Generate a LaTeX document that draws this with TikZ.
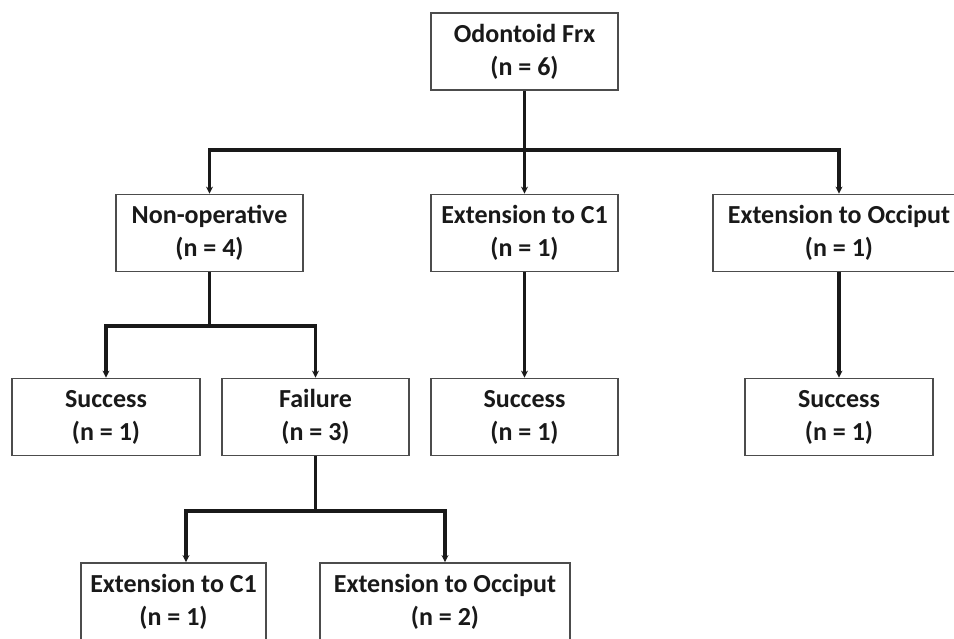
\documentclass[tikz,border=0pt]{standalone}
\usepackage{fontspec}
\setmainfont{Carlito}
\usetikzlibrary{arrows.meta}
\begin{document}
\begin{tikzpicture}[x=1pt, y=-1pt,
        box/.style={draw=black!70, line width=1.8pt, rectangle, minimum height=77pt, inner sep=0pt, align=center,
            font=\fontsize{26}{33}\selectfont\bfseries, text=black!90},
        link/.style={line width=3.2pt, black!90},
        arr/.style={link, -{Stealth[length=7pt, width=7pt]}}]
    \useasboundingbox (0,0) rectangle (954,638);

    % Nodes
    \node[box, minimum width=187pt] at (524.5, 51.5) (frx) {Odontoid Frx\\(n = 6)};
    \node[box, minimum width=187pt] at (209.5, 233) (nonop) {Non-operative\\(n = 4)};
    \node[box, minimum width=187pt] at (524.5, 233) (extcone) {Extension to C1\\(n = 1)};
    \node[box, minimum width=252pt] at (839, 233) (extocc) {Extension to Occiput\\(n = 1)};
    \node[box, minimum width=188pt] at (106, 417) (succa) {Success\\(n = 1)};
    \node[box, minimum width=187pt] at (315.5, 417) (fail) {Failure\\(n = 3)};
    \node[box, minimum width=187pt] at (524.5, 417) (succb) {Success\\(n = 1)};
    \node[box, minimum width=188pt] at (839, 417) (succc) {Success\\(n = 1)};
    \node[box, minimum width=185pt] at (173.5, 601.5) (extctwo) {Extension to C1\\(n = 1)};
    \node[box, minimum width=250pt] at (445, 601.5) (extoccb) {Extension to Occiput\\(n = 2)};

    % Split points
    \coordinate (splita) at (524.5, 150);
    \coordinate (splitb) at (209.5, 326);
    \coordinate (splitc) at (315.5, 511);

    % Edges
    \draw[link] (frx) -- (splita);
    \draw[arr] (splita) -| (nonop);
    \draw[arr] (splita) -- (extcone);
    \draw[arr] (splita) -| (extocc);

    \draw[link] (nonop) -- (splitb);
    \draw[arr] (splitb) -| (succa);
    \draw[arr] (splitb) -| (fail);

    \draw[arr] (extcone) -- (succb);
    \draw[arr] (extocc) -- (succc);

    \draw[link] (fail) -- (splitc);
    \draw[arr] (splitc) -| ([xshift=12.5pt]extctwo.north);
    \draw[arr] (splitc) -| (extoccb);
\end{tikzpicture}
\end{document}
